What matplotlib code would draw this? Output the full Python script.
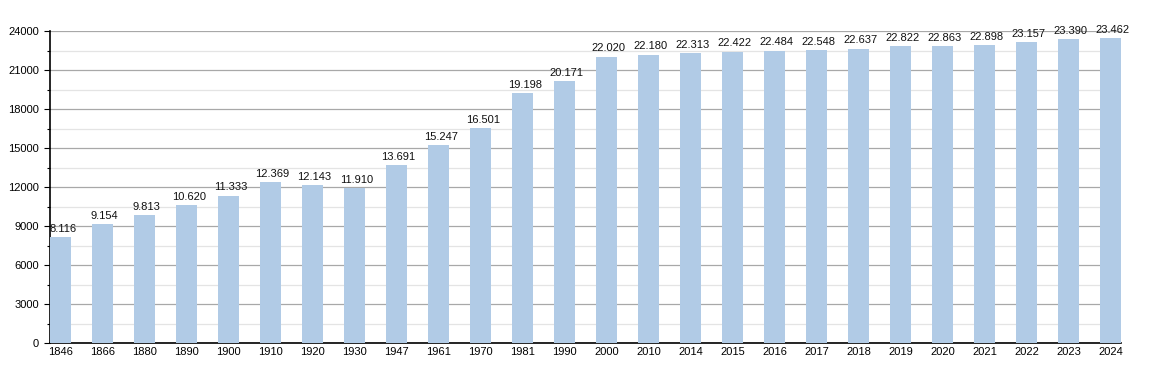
import numpy as np
import matplotlib.pyplot as plt
from matplotlib.ticker import MultipleLocator

# Dati della popolazione
anni = ["1846", "1866", "1880", "1890", "1900", "1910", "1920", "1930", "1947",
        "1961", "1970", "1981", "1990", "2000", "2010", "2014", "2015", "2016",
        "2017", "2018", "2019", "2020", "2021", "2022", "2023", "2024"]
abitanti = [8116, 9154, 9813, 10620, 11333, 12369, 12143, 11910, 13691,
            15247, 16501, 19198, 20171, 22020, 22180, 22313, 22422, 22484,
            22548, 22637, 22822, 22863, 22898, 23157, 23390, 23462]

plt.rcParams['font.family'] = ['Liberation Sans', 'DejaVu Sans']

fig = plt.figure(figsize=(11.5, 3.73), dpi=100)
ax = fig.add_axes([50 / 1150, 30 / 373, 1071 / 1150, 312 / 373])

x = np.arange(len(anni))
ax.bar(x, abitanti, width=0.5, color='#b1cbe6', zorder=3)

# Etichette sopra le barre (separatore delle migliaia con il punto)
for xi, v in zip(x, abitanti):
    ax.text(xi + 0.05, v + 250, f"{v:,}".replace(",", "."), ha='center', va='bottom',
            fontsize=8, color='#111111', zorder=4)

ax.set_xlim(-0.25, len(anni) - 0.75)
ax.set_ylim(0, 24000)
ax.set_xticks(x)
ax.set_xticklabels(anni, fontsize=8)
ax.yaxis.set_major_locator(MultipleLocator(3000))
ax.yaxis.set_minor_locator(MultipleLocator(1500))
ax.tick_params(axis='y', labelsize=8, length=4, width=0.8, pad=4)
ax.tick_params(axis='y', which='minor', length=2, width=0.8)
ax.tick_params(axis='x', length=0, pad=3)

# Griglia
ax.grid(axis='y', which='major', color='#a8a8a8', linewidth=0.9, zorder=1)
ax.grid(axis='y', which='minor', color='#e4e4e4', linewidth=0.9, zorder=1)

for s in ['top', 'right']:
    ax.spines[s].set_visible(False)
ax.spines['left'].set_linewidth(1.2)
ax.spines['bottom'].set_linewidth(1.2)

fig.savefig("out.png", dpi=100)
